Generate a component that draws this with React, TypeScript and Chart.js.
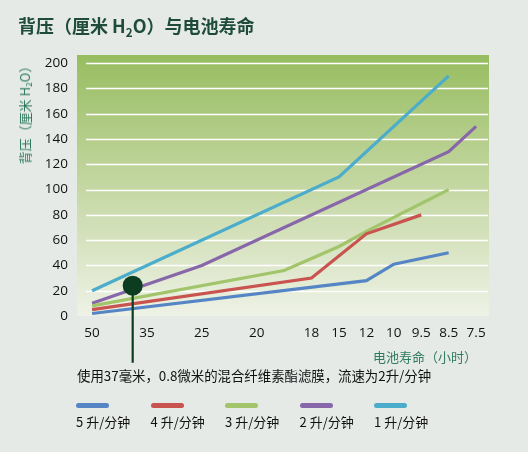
import React, { useEffect, useRef } from 'react';
import { Chart, registerables } from 'chart.js';

Chart.register(...registerables);

// X axis: battery life (hours), placed on an index scale
const tickPositions = [0, 2, 4, 6, 8, 9, 10, 11, 12, 13, 14];
const tickLabels = ['50', '35', '25', '20', '18', '15', '12', '10', '9.5', '8.5', '7.5'];
const yTicks = [0, 20, 40, 60, 80, 100, 120, 140, 160, 180, 200];

const seriesNames = ['5 升/分钟', '4 升/分钟', '3 升/分钟', '2 升/分钟', '1 升/分钟'];
const seriesColors = ['#5585c5', '#c9534f', '#a2c46a', '#8767aa', '#4badcb'];

const flow5X = [0, 10, 11, 13];
const flow5Y = [2, 28, 41, 50];
const flow4X = [0, 8, 10, 12];
const flow4Y = [5, 30, 65, 80];
const flow3X = [0, 7, 9, 10, 11, 12, 13];
const flow3Y = [8, 36, 55, 67, 78, 89, 100];
const flow2X = [0, 4, 13, 14];
const flow2Y = [10, 40, 130, 150];
const flow1X = [0, 9, 13];
const flow1Y = [20, 110, 190];

const seriesX = [flow5X, flow4X, flow3X, flow2X, flow1X];
const seriesY = [flow5Y, flow4Y, flow3Y, flow2Y, flow1Y];

// marker for the 37 mm / 2 L/min example
const markerX = 1.48;
const markerY = 24;
const markerStemEnd = -37;

const xMin = -0.55;
const xMax = 14.47;
const yMax = 206.5;
const gridStartX = -0.22;

const TEAL = '#2f7b5f';

const bgPlugin = {
  id: 'bgGrid',
  beforeDatasetsDraw(chart: any) {
    const { ctx, chartArea: a, scales } = chart;
    ctx.save();
    const g = ctx.createLinearGradient(0, a.top, 0, a.bottom);
    g.addColorStop(0, '#97bd60');
    g.addColorStop(0.5, '#c4d7a2');
    g.addColorStop(1, '#eef2e6');
    ctx.fillStyle = g;
    ctx.fillRect(a.left, a.top, a.right - a.left, a.bottom - a.top);
    ctx.strokeStyle = '#ffffff';
    ctx.lineWidth = 1.3;
    const x0 = scales.x.getPixelForValue(gridStartX);
    yTicks.forEach((v) => {
      if (v === 0) return;
      const y = Math.round(scales.y.getPixelForValue(v)) + 0.5;
      ctx.beginPath();
      ctx.moveTo(x0, y);
      ctx.lineTo(a.right - 1, y);
      ctx.stroke();
    });
    ctx.restore();
  },
};

const markerPlugin = {
  id: 'marker',
  afterDatasetsDraw(chart: any) {
    const { ctx, scales } = chart;
    const cx = scales.x.getPixelForValue(markerX);
    const cy = scales.y.getPixelForValue(markerY);
    const yEnd = scales.y.getPixelForValue(markerStemEnd);
    ctx.save();
    ctx.strokeStyle = '#0d3d20';
    ctx.lineWidth = 2.2;
    ctx.beginPath();
    ctx.moveTo(cx, cy);
    ctx.lineTo(cx, yEnd);
    ctx.stroke();
    ctx.fillStyle = '#0d3d20';
    ctx.beginPath();
    ctx.arc(cx, cy, 10, 0, Math.PI * 2);
    ctx.fill();
    ctx.restore();
  },
};

const cjk = '"Noto Sans CJK SC", "Open Sans", sans-serif';

export default function App() {
  const ref = useRef<HTMLCanvasElement | null>(null);

  useEffect(() => {
    if (!ref.current) return;
    const chart = new Chart(ref.current, {
      type: 'line',
      data: {
        datasets: seriesNames.map((name, i) => ({
          label: name,
          data: seriesX[i].map((x, j) => ({ x, y: seriesY[i][j] })),
          borderColor: seriesColors[i],
          backgroundColor: seriesColors[i],
          borderWidth: 3.2,
          pointRadius: 0,
          tension: 0,
          fill: false,
        })),
      },
      options: {
        animation: false,
        responsive: false,
        devicePixelRatio: 1,
        layout: { padding: { top: 55, right: 39, left: 0, bottom: 0 } },
        plugins: {
          legend: { display: false },
          tooltip: { enabled: false },
          title: { display: false },
        },
        scales: {
          x: {
            type: 'linear',
            min: xMin,
            max: xMax,
            grid: { display: false, drawTicks: false },
            border: { display: false },
            afterBuildTicks: (scale: any) => {
              scale.ticks = tickPositions.map((v) => ({ value: v }));
            },
            afterFit: (scale: any) => {
              scale.height = 136;
            },
            ticks: {
              autoSkip: false,
              maxRotation: 0,
              padding: 9,
              color: '#111111',
              font: { family: '"Open Sans", sans-serif', size: 13.5 },
              callback: (_v: any, index: number) => tickLabels[index],
            },
          },
          y: {
            type: 'linear',
            min: 0,
            max: yMax,
            grid: { display: false, drawTicks: false },
            border: { display: false },
            afterBuildTicks: (scale: any) => {
              scale.ticks = yTicks.map((v) => ({ value: v }));
            },
            afterFit: (scale: any) => {
              scale.width = 77;
            },
            ticks: {
              padding: 9,
              color: '#111111',
              font: { family: '"Open Sans", sans-serif', size: 13.5 },
            },
          },
        },
      },
      plugins: [bgPlugin, markerPlugin],
    } as any);
    return () => chart.destroy();
  }, []);

  return (
    <div
      style={{
        position: 'fixed',
        left: 0,
        top: 0,
        width: 528,
        height: 452,
        background: '#e5eae7',
        overflow: 'hidden',
        fontFamily: cjk,
      }}
    >
      <canvas
        ref={ref}
        width={528}
        height={452}
        style={{ position: 'absolute', left: 0, top: 0, width: 528, height: 452 }}
      />
      <div
        style={{
          position: 'absolute',
          left: 18,
          top: 13,
          lineHeight: '24px',
          fontSize: 18,
          fontWeight: 'bold',
          color: '#1f4b3b',
          whiteSpace: 'nowrap',
        }}
      >
        背压（厘米 H<sub style={{ fontSize: '0.65em', verticalAlign: '-0.3em', lineHeight: 0 }}>2</sub>O）与电池寿命
      </div>
      <div
        style={{
          position: 'absolute',
          left: 25,
          top: 112,
          transform: 'translate(-50%, -50%) rotate(-90deg)',
          fontSize: 13,
          lineHeight: '16px',
          color: TEAL,
          whiteSpace: 'nowrap',
        }}
      >
        背压（厘米 H<sub style={{ fontSize: '0.65em', verticalAlign: '-0.2em', lineHeight: 0 }}>2</sub>O）
      </div>
      <div
        style={{
          position: 'absolute',
          right: 51,
          top: 349,
          fontSize: 13,
          lineHeight: '16px',
          color: TEAL,
          whiteSpace: 'nowrap',
        }}
      >
        电池寿命（小时）
      </div>
      <div
        style={{
          position: 'absolute',
          left: 77,
          top: 366,
          fontSize: 13.4,
          lineHeight: '18px',
          color: '#111111',
          whiteSpace: 'nowrap',
        }}
      >
        使用37毫米，0.8微米的混合纤维素酯滤膜，流速为2升/分钟
      </div>
      {seriesNames.map((name, i) => (
        <div key={name} style={{ position: 'absolute', left: 76 + i * 74.5, top: 403 }}>
          <div style={{ width: 33, height: 5, borderRadius: 3, background: seriesColors[i] }} />
          <div
            style={{
              marginTop: 6,
              fontSize: 13,
              lineHeight: '16px',
              color: '#111111',
              whiteSpace: 'nowrap',
            }}
          >
            {name}
          </div>
        </div>
      ))}
    </div>
  );
}
